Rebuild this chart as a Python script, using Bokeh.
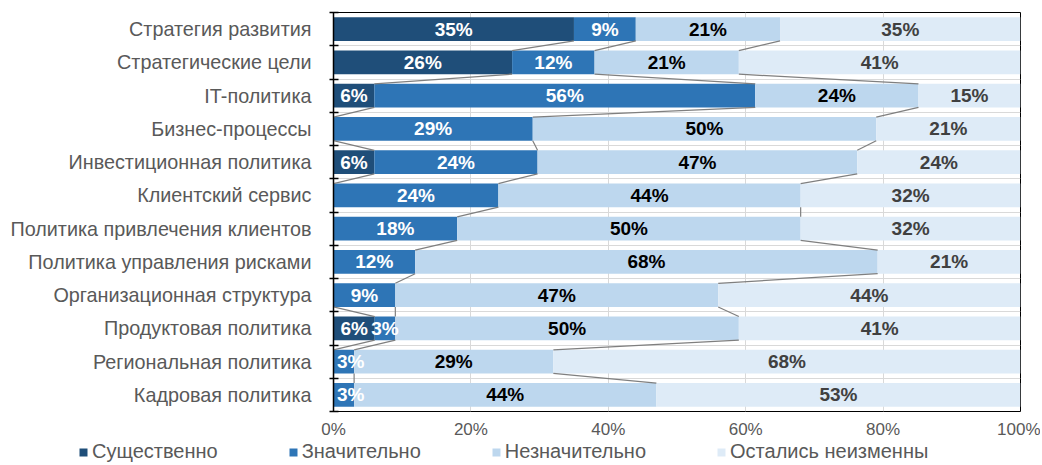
from bokeh.plotting import figure
from bokeh.layouts import column
from bokeh.models import (Range1d, FixedTicker, NumeralTickFormatter, ColumnDataSource,
                          Legend, LegendItem)
from bokeh.core.properties import value
from bokeh.embed import file_html
from bokeh.resources import INLINE

categories = ["Стратегия развития", "Стратегические цели", "IT-политика", "Бизнес-процессы",
              "Инвестиционная политика", "Клиентский сервис", "Политика привлечения клиентов",
              "Политика управления рисками", "Организационная структура", "Продуктовая политика",
              "Региональная политика", "Кадровая политика"]
series_names = ["Существенно", "Значительно", "Незначительно", "Остались неизменны"]
sushchestvenno = [35, 26, 6, 0, 6, 0, 0, 0, 0, 6, 0, 0]
znachitelno = [9, 12, 56, 29, 24, 24, 18, 12, 9, 3, 3, 3]
neznachitelno = [21, 21, 24, 50, 47, 44, 50, 68, 47, 50, 29, 44]
neizmenny = [35, 41, 15, 21, 24, 32, 32, 21, 44, 41, 68, 53]
x_ticks = [0, 0.2, 0.4, 0.6, 0.8, 1.0]

colors = ["#1F4E79", "#2E75B6", "#BDD7EE", "#DEEBF7"]
label_colors = ["#FFFFFF", "#FFFFFF", "#000000", "#404040"]
FONT = "Liberation Sans"
BAR_H = 0.71
MIN_LABEL_X = 0.025

series = [sushchestvenno, znachitelno, neznachitelno, neizmenny]
n = len(categories)
ys = list(range(n))
totals = [sum(s[i] for s in series) for i in range(n)]
fracs = [[s[i] / totals[i] for i in range(n)] for s in series]
keys = ["s0", "s1", "s2", "s3"]
data = {"y": ys}
for k, f in zip(keys, fracs):
    data[k] = f
src = ColumnDataSource(data)

p = figure(width=1040, height=441, output_backend="svg", toolbar_location=None,
           x_range=Range1d(0, 1), y_range=Range1d(n - 0.5, -0.5),
           min_border_left=333, min_border_right=20, min_border_top=12, min_border_bottom=28)
p.background_fill_color = "white"
p.border_fill_color = "white"
p.outline_line_color = "black"
p.outline_line_width = 1
p.frame_align = False

renderers = p.hbar_stack(keys, y="y", height=BAR_H, color=colors, line_width=0, source=src)

# label text per segment
lx, ly, lt, lc = [], [], [], []
for si, s in enumerate(series):
    for i in range(n):
        if s[i] == 0:
            continue
        left = sum(fracs[k][i] for k in range(si))
        lx.append(max(left + fracs[si][i] / 2, MIN_LABEL_X))
        ly.append(i)
        lt.append(f"{s[i]}%")
        lc.append(label_colors[si])
p.text(x=lx, y=ly, text=lt, text_color=lc, text_align="center", text_baseline="middle",
       text_font=value(FONT), text_font_style="bold", text_font_size="19px")

# series lines
x0s, y0s, x1s, y1s = [], [], [], []
for i in range(n - 1):
    for k in range(1, 4):
        c0 = sum(fracs[j][i] for j in range(k))
        c1 = sum(fracs[j][i + 1] for j in range(k))
        x0s.append(c0); y0s.append(i + BAR_H / 2)
        x1s.append(c1); y1s.append(i + 1 - BAR_H / 2)
p.segment(x0=x0s, y0=y0s, x1=x1s, y1=y1s, line_color="#7F7F7F", line_width=1.2)

# grids
p.xgrid.ticker = FixedTicker(ticks=x_ticks[1:-1])
p.xgrid.grid_line_color = "#D9D9D9"
p.ygrid.ticker = FixedTicker(ticks=[i + 0.5 for i in range(n - 1)])
p.ygrid.grid_line_color = "#D9D9D9"

# x axis
xa = p.xaxis[0]
xa.ticker = FixedTicker(ticks=x_ticks)
xa.formatter = NumeralTickFormatter(format="0%")
xa.axis_line_color = None
xa.major_tick_line_color = None
xa.minor_tick_line_color = None
xa.major_tick_in = 0
xa.major_tick_out = 0
xa.major_label_text_font = FONT
xa.major_label_text_font_size = "17px"
xa.major_label_text_color = "#595959"
xa.major_label_standoff = 8

# y axis
ya = p.yaxis[0]
ya.ticker = FixedTicker(ticks=ys, minor_ticks=[i - 0.5 for i in range(n + 1)])
ya.major_label_overrides = {i: c for i, c in enumerate(categories)}
ya.major_tick_line_color = None
ya.major_tick_in = 0
ya.major_tick_out = 0
ya.minor_tick_line_color = "black"
ya.minor_tick_line_width = 1.5
ya.minor_tick_in = 5
ya.minor_tick_out = 4
ya.axis_line_color = "black"
ya.axis_line_width = 1.5
ya.major_label_text_font = FONT
ya.major_label_text_font_size = "19.8px"
ya.major_label_text_color = "#595959"
ya.major_label_standoff = 18

# legend in its own strip below the chart
lf = figure(width=1040, height=22, output_backend="svg", toolbar_location=None,
            x_axis_location=None, y_axis_location=None,
            x_range=Range1d(0, 1), y_range=Range1d(0, 1),
            min_border=0, min_border_left=0, min_border_right=0, min_border_top=0, min_border_bottom=0)
lf.outline_line_color = None
lf.frame_align = False
lf.xgrid.visible = False
lf.ygrid.visible = False
off = ColumnDataSource({"y": [-10], "l": [0], "r": [0]})
leg_renderers = [lf.hbar(y="y", left="l", right="r", height=0.5, color=c, line_width=0, source=off)
                 for c in colors]
legend = Legend(items=[LegendItem(label=nm, renderers=[r]) for nm, r in zip(series_names, leg_renderers)],
                location=(78, 0), orientation="horizontal",
                glyph_width=10, glyph_height=10, label_standoff=4, spacing=70, label_height=22,
                padding=0, margin=0, border_line_color=None, background_fill_alpha=0,
                label_text_font=FONT, label_text_font_size="20px", label_text_color="#595959")
lf.add_layout(legend)

open("out.html", "w").write(file_html(column(p, lf, spacing=0), INLINE))
